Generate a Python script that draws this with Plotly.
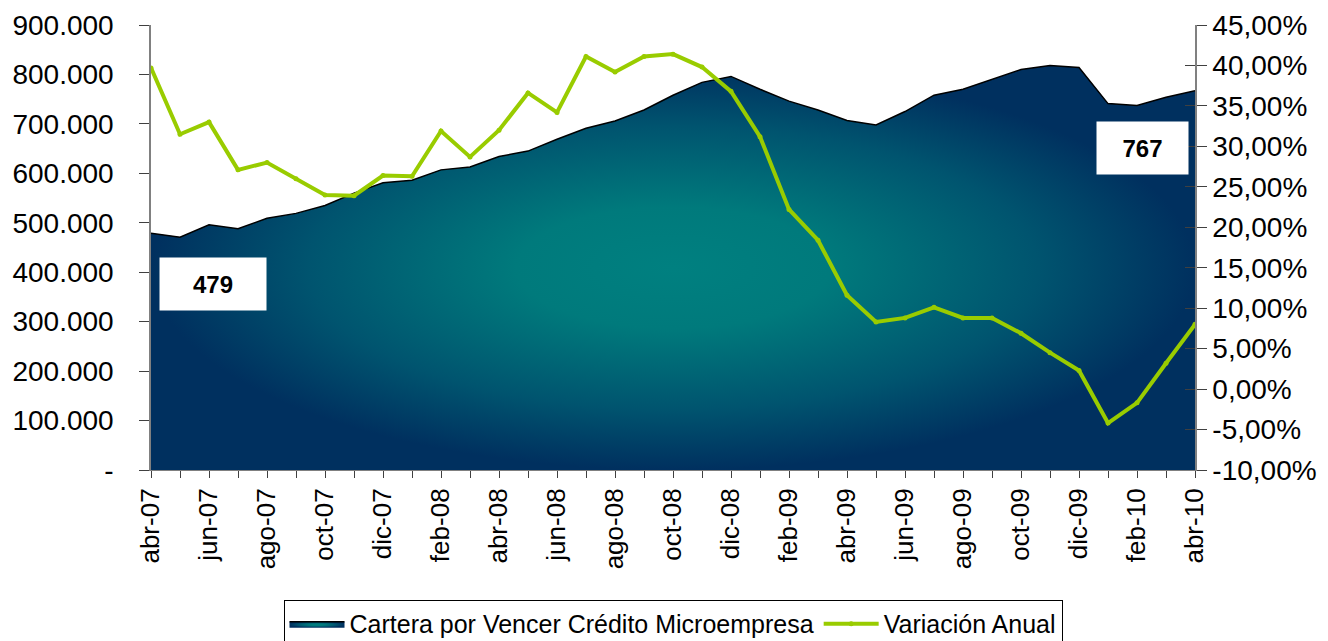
import plotly.graph_objects as go

meses = ["abr-07","may-07","jun-07","jul-07","ago-07","sep-07","oct-07","nov-07","dic-07",
         "ene-08","feb-08","mar-08","abr-08","may-08","jun-08","jul-08","ago-08","sep-08","oct-08","nov-08","dic-08",
         "ene-09","feb-09","mar-09","abr-09","may-09","jun-09","jul-09","ago-09","sep-09","oct-09","nov-09","dic-09",
         "ene-10","feb-10","mar-10","abr-10"]

cartera = [479000, 471000, 496000, 488000, 509000, 519000, 535000, 560000, 581000,
           586000, 607000, 613000, 634000, 645000, 669000, 691000, 706000, 728000, 758000, 784000, 796000,
           770000, 746000, 728000, 707000, 698000, 725000, 758000, 770000, 790000, 810000, 818000, 814000,
           741000, 737000, 754000, 767000]

variacion = [0.397, 0.315, 0.330, 0.271, 0.280, 0.260, 0.240, 0.239, 0.264,
             0.263, 0.319, 0.287, 0.320, 0.366, 0.342, 0.411, 0.392, 0.411, 0.414, 0.398, 0.368,
             0.312, 0.222, 0.184, 0.116, 0.083, 0.088, 0.101, 0.088, 0.088, 0.069, 0.045, 0.023,
             -0.042, -0.017, 0.032, 0.080]

left_vals = [0, 100000, 200000, 300000, 400000, 500000, 600000, 700000, 800000, 900000]
left_text = ["-", "100.000", "200.000", "300.000", "400.000", "500.000", "600.000", "700.000", "800.000", "900.000"]
right_vals = [-0.10, -0.05, 0.0, 0.05, 0.10, 0.15, 0.20, 0.25, 0.30, 0.35, 0.40, 0.45]
right_text = ["-10,00%", "-5,00%", "0,00%", "5,00%", "10,00%", "15,00%", "20,00%", "25,00%",
              "30,00%", "35,00%", "40,00%", "45,00%"]

idx = list(range(len(meses)))
xtext = [m if i % 2 == 0 else "" for i, m in enumerate(meses)]

FONT = "Arial, Liberation Sans, sans-serif"

fig = go.Figure()
fig.add_trace(go.Scatter(
    x=idx, y=cartera, mode="lines", fill="tozeroy",
    name="Cartera por Vencer Crédito Microempresa",
    line=dict(color="black", width=1.5),
    fillcolor="#00567A",
    fillgradient=dict(type="radial",
                      colorscale=[[0, "#008080"], [0.3, "#007A7C"], [0.7, "#00546F"], [1, "#00305F"]]),
    yaxis="y", hoverinfo="skip"))
fig.add_trace(go.Scatter(
    x=idx, y=variacion, mode="lines+markers", name="Variación Anual",
    line=dict(color="#99CC00", width=4), marker=dict(color="#99CC00", size=5),
    yaxis="y2"))
# inner right ticks (to make the right-axis ticks cross the line)
fig.add_trace(go.Scatter(x=[0], y=[None], yaxis="y3", showlegend=False, hoverinfo="skip"))

fig.add_annotation(x=0.0594, y=0.418, xref="paper", yref="paper", xanchor="center", yanchor="middle",
                   text=f"<b>{round(cartera[0]/1000)}</b>", showarrow=False,
                   bgcolor="white", width=102, height=48, borderpad=2,
                   font=dict(family=FONT, size=24, color="black"))
fig.add_annotation(x=0.9497, y=0.7236, xref="paper", yref="paper", xanchor="center", yanchor="middle",
                   text=f"<b>{round(cartera[-1]/1000)}</b>", showarrow=False,
                   bgcolor="white", width=87, height=48, borderpad=2,
                   font=dict(family=FONT, size=24, color="black"))

fig.update_layout(
    width=1320, height=633,
    margin=dict(l=143, r=133, t=17, b=171, autoexpand=False),
    paper_bgcolor="white", plot_bgcolor="white",
    font=dict(family=FONT, color="black"),
    showlegend=True,
    legend=dict(orientation="h", x=0.5, xanchor="center", y=-0.292, yanchor="top",
                bordercolor="black", borderwidth=1, font=dict(size=25, family=FONT),
                itemwidth=55, tracegroupgap=0),
    xaxis=dict(range=[0, 36], tickmode="array", tickvals=idx, ticktext=xtext, tickangle=-90,
               showgrid=False, zeroline=False, showline=True, linecolor="#808080", linewidth=1,
               ticks="outside", ticklen=7, tickcolor="#404040", automargin=False,
               tickfont=dict(size=26, family=FONT)),
    yaxis=dict(range=[0, 900000], tickmode="array", tickvals=left_vals, ticktext=left_text,
               showgrid=False, zeroline=False, showline=True, linecolor="#808080", linewidth=1.5,
               ticks="outside", ticklen=10, tickcolor="#404040", automargin=False,
               ticklabelstandoff=20,
               tickfont=dict(size=28, family=FONT)),
    yaxis2=dict(range=[-0.10, 0.45], tickmode="array", tickvals=right_vals, ticktext=right_text,
                overlaying="y", side="right", anchor="x", automargin=False,
                showgrid=False, zeroline=False, showline=True, linecolor="#808080", linewidth=1.5,
                ticks="outside", ticklen=10, tickcolor="#404040",
                tickfont=dict(size=28, family=FONT)),
    yaxis3=dict(range=[-0.10, 0.45], tickmode="array", tickvals=right_vals,
                overlaying="y", side="right", anchor="x", showticklabels=False, automargin=False,
                showgrid=False, zeroline=False, showline=False,
                ticks="inside", ticklen=10, tickcolor="#404040"),
)

fig.write_html("out.html")
